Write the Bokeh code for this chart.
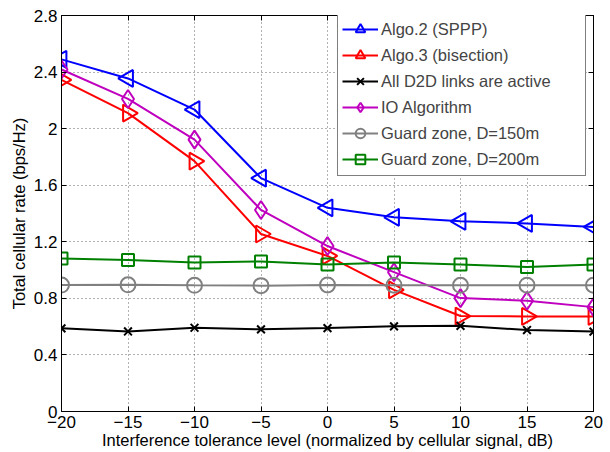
import math
from bokeh.plotting import figure
from bokeh.models import FixedTicker, LinearAxis, Range1d, Legend, LegendItem
from bokeh.embed import file_html
from bokeh.resources import INLINE

x = [-20, -15, -10, -5, 0, 5, 10, 15, 20]
algo2 = [2.49, 2.355, 2.135, 1.65, 1.44, 1.373, 1.345, 1.33, 1.305]
algo3 = [2.345, 2.11, 1.77, 1.255, 1.10, 0.86, 0.675, 0.672, 0.672]
all_d2d = [0.588, 0.566, 0.592, 0.581, 0.59, 0.602, 0.606, 0.576, 0.565]
io_alg = [2.418, 2.21, 1.922, 1.425, 1.17, 0.985, 0.802, 0.783, 0.738]
guard150 = [0.894, 0.896, 0.892, 0.89, 0.895, 0.893, 0.892, 0.893, 0.893]
guard200 = [1.082, 1.072, 1.054, 1.061, 1.04, 1.054, 1.04, 1.022, 1.04]

x_ticks = [-20, -15, -10, -5, 0, 5, 10, 15, 20]
x_tick_labels = ["\u221220", "\u221215", "\u221210", "\u22125", "0", "5", "10", "15", "20"]
y_ticks = [0, 0.4, 0.8, 1.2, 1.6, 2.0, 2.4, 2.8]
y_tick_labels = ["0", "0.4", "0.8", "1.2", "1.6", "2", "2.4", "2.8"]

FONT = "Liberation Sans"

p = figure(width=608, height=451, output_backend="svg", toolbar_location=None,
           x_range=Range1d(-20, 20), y_range=Range1d(0, 2.8),
           min_border_left=61, min_border_right=15, min_border_top=15, min_border_bottom=36)
p.outline_line_color = "black"
p.outline_line_width = 1
p.background_fill_color = "white"
p.border_fill_color = "white"

for ax in (p.xaxis[0], p.yaxis[0]):
    ax.major_tick_in = 5
    ax.major_tick_out = 0
    ax.minor_tick_in = 0
    ax.minor_tick_out = 0
    ax.axis_line_color = "black"
    ax.major_tick_line_color = "black"
    ax.major_label_text_font = FONT
    ax.major_label_text_font_size = "17px"
    ax.major_label_text_color = "black"
    ax.axis_label_text_font = FONT
    ax.axis_label_text_font_size = "16.5px"
    ax.axis_label_text_font_style = "normal"
    ax.axis_label_text_color = "black"

p.xaxis[0].ticker = FixedTicker(ticks=x_ticks)
p.xaxis[0].major_label_overrides = {t: l for t, l in zip(x_ticks, x_tick_labels)}
p.xaxis[0].axis_label = "Interference tolerance level (normalized by cellular signal, dB)"
p.xaxis[0].axis_label_standoff = 0
p.xaxis[0].major_label_standoff = 4
p.yaxis[0].ticker = FixedTicker(ticks=y_ticks)
p.yaxis[0].major_label_overrides = {t: l for t, l in zip(y_ticks, y_tick_labels)}
p.yaxis[0].axis_label = "Total cellular rate (bps/Hz)"
p.yaxis[0].axis_label_standoff = 3
p.yaxis[0].major_label_standoff = 4

right = LinearAxis(ticker=FixedTicker(ticks=y_ticks),
                   major_label_overrides={t: "" for t in y_ticks},
                   major_tick_in=5, major_tick_out=0, minor_tick_in=0, minor_tick_out=0,
                   major_label_standoff=0)
top = LinearAxis(ticker=FixedTicker(ticks=x_ticks),
                 major_label_overrides={t: "" for t in x_ticks},
                 major_tick_in=5, major_tick_out=0, minor_tick_in=0, minor_tick_out=0,
                 major_label_standoff=0)
p.add_layout(right, "right")
p.add_layout(top, "above")

p.xgrid.ticker = FixedTicker(ticks=x_ticks)
p.ygrid.ticker = FixedTicker(ticks=y_ticks)
p.grid.grid_line_color = "black"
p.grid.grid_line_alpha = 0.6
p.grid.grid_line_dash = "1 3"
p.grid.grid_line_width = 1

items = []
series = [
    ("Algo.2 (SPPP)", algo2, "#0000FF", "triangle", math.pi / 2, 17),
    ("Algo.3 (bisection)", algo3, "#FF0000", "triangle", -math.pi / 2, 17),
    ("All D2D links are active", all_d2d, "black", "x", 0, 11),
    ("IO Algorithm", io_alg, "#BF00BF", "diamond", 0, 18),
    ("Guard zone, D=150m", guard150, "#808080", "circle", 0, 15),
    ("Guard zone, D=200m", guard200, "#008000", "square", 0, 12),
]
for label, ys, color, marker, ang, size in series:
    r1 = p.line(x, ys, line_color=color, line_width=2)
    r2 = p.scatter(x, ys, marker=marker, angle=ang, size=size, line_color=color,
                   line_width=2, fill_alpha=0)
    items.append(LegendItem(label=label, renderers=[r1, r2]))

legend = Legend(items=items, location=(276, 235),
                label_text_font=FONT, label_text_font_size="16.5px",
                glyph_width=36, glyph_height=24, label_standoff=3,
                spacing=2, padding=4, label_width=200, label_height=20,
                border_line_color="black", border_line_width=1,
                background_fill_alpha=1.0)
p.add_layout(legend)

open("out.html", "w").write(file_html(p, INLINE))
